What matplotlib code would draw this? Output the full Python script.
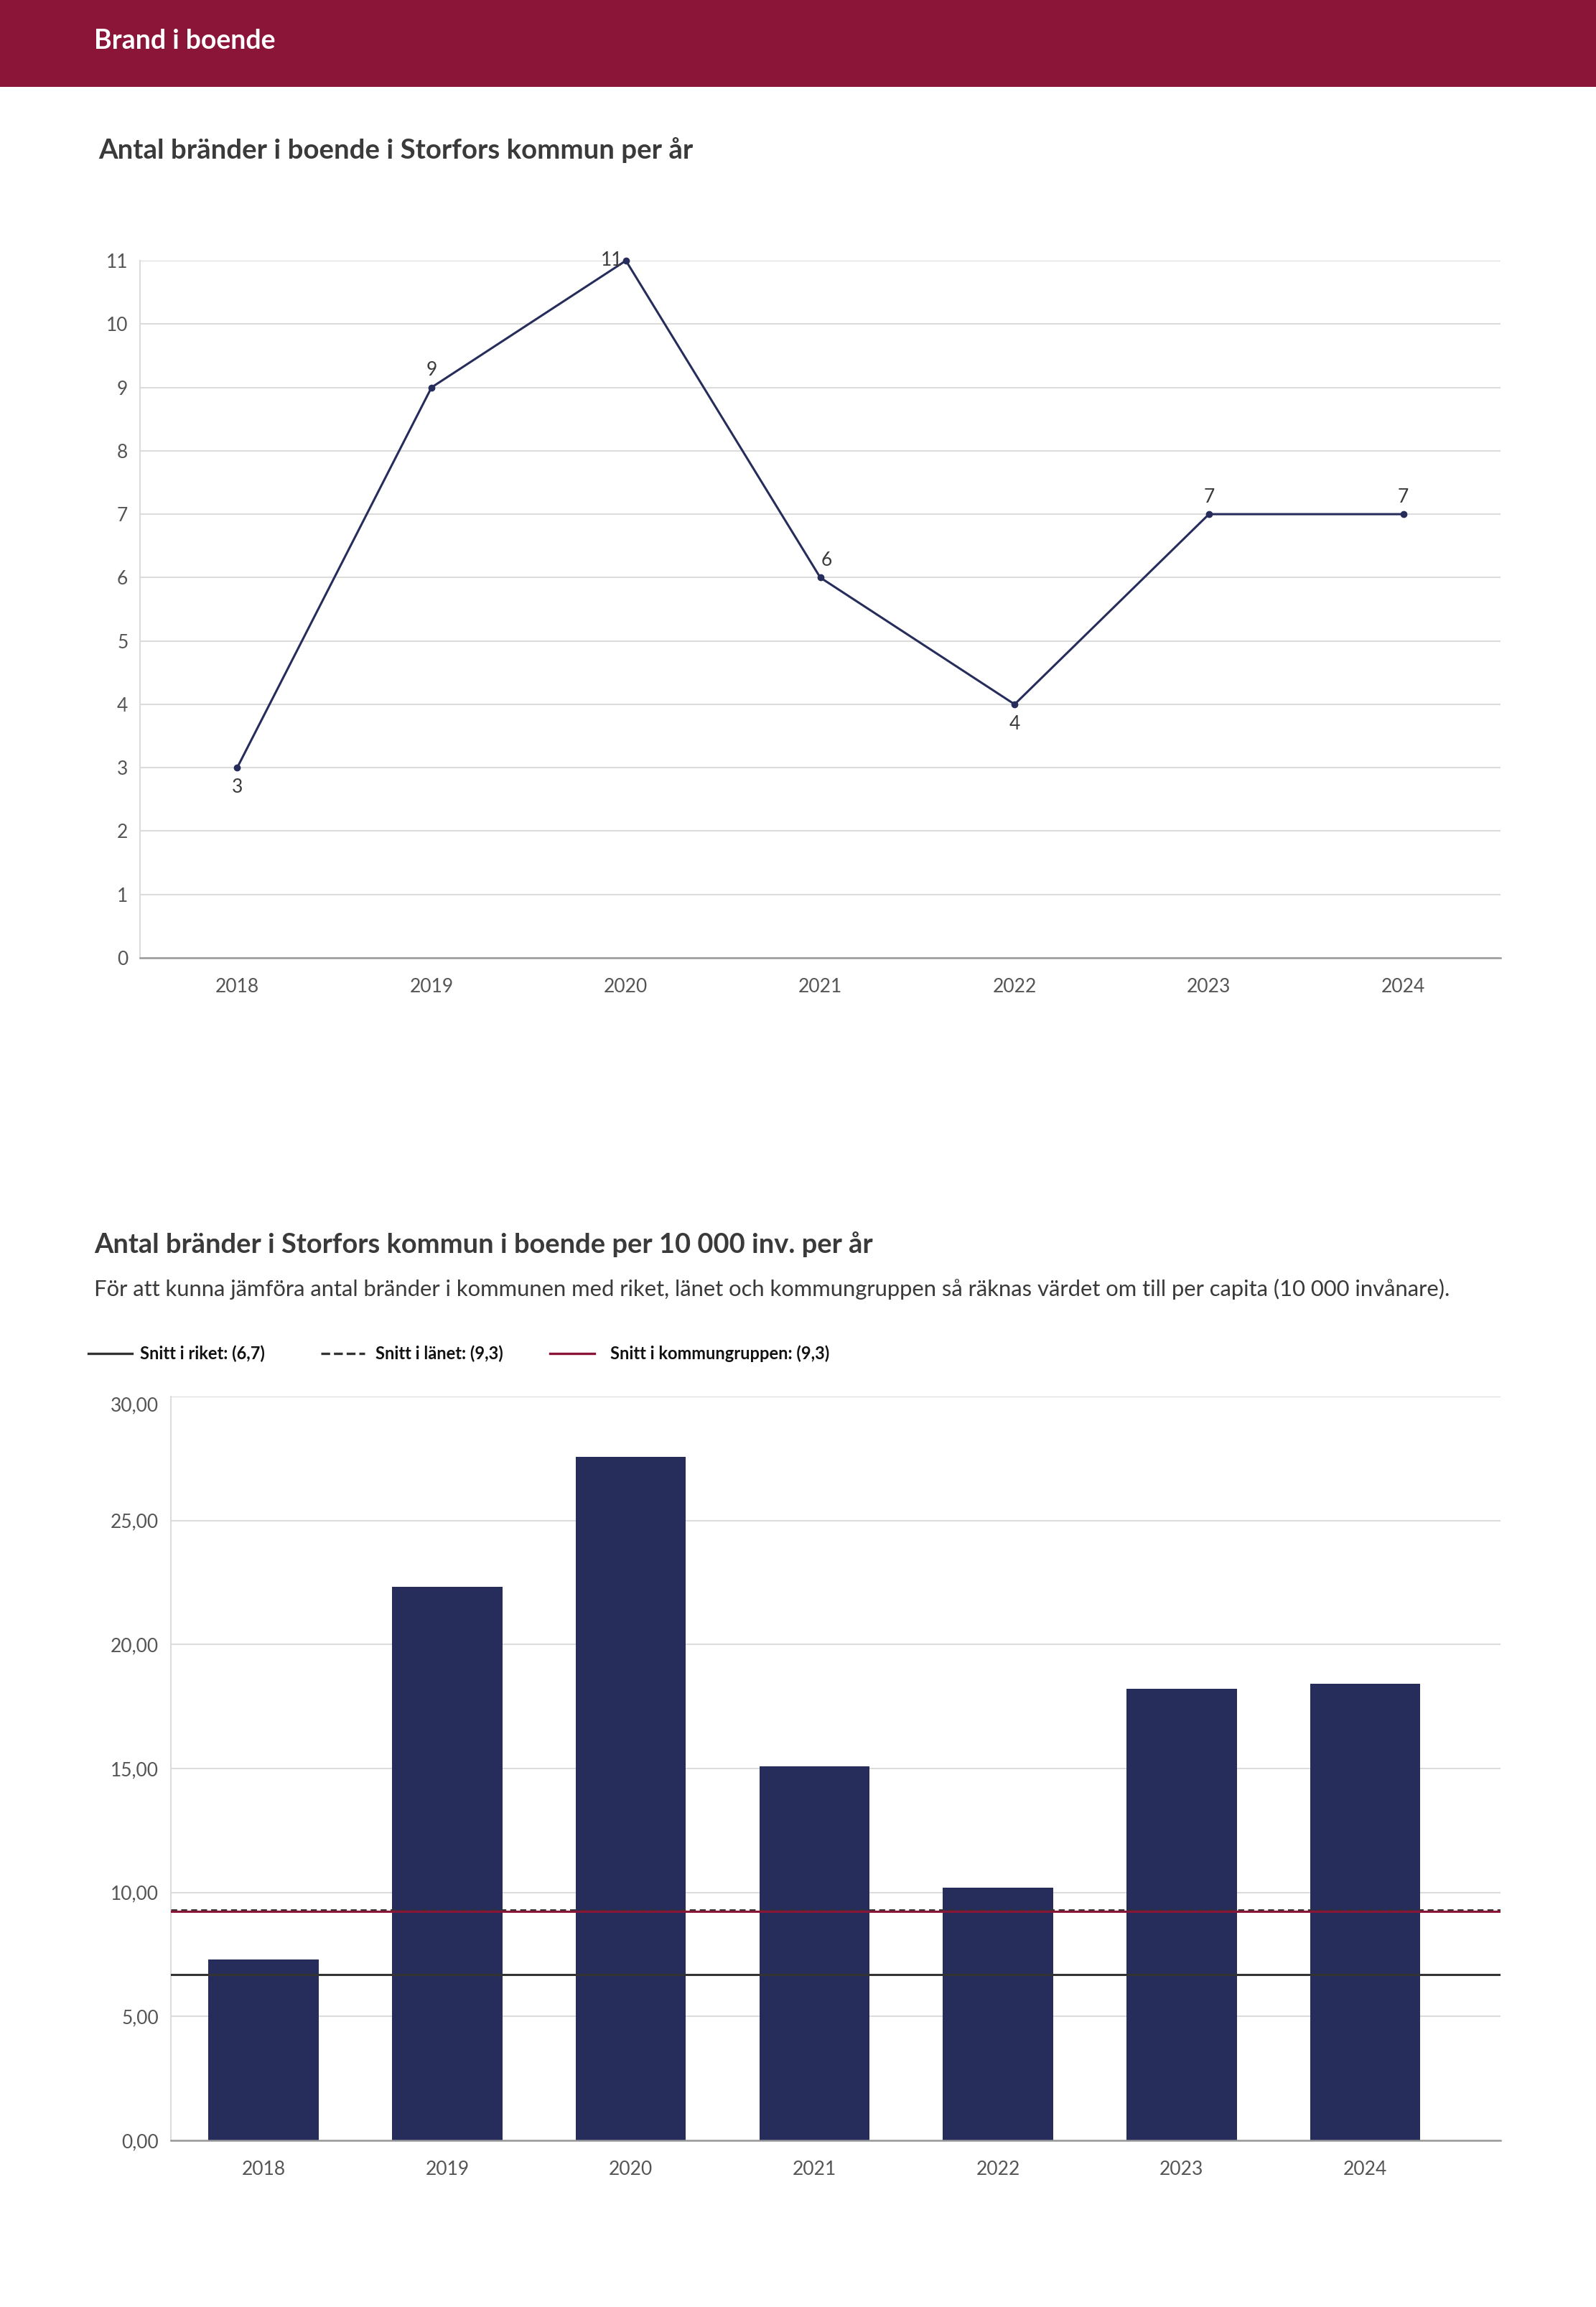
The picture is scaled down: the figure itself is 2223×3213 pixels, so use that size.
import matplotlib
matplotlib.use("Agg")
import matplotlib.pyplot as plt
from matplotlib.lines import Line2D
from matplotlib.patches import Rectangle
import matplotlib.ticker as mticker

plt.rcParams['font.family'] = ['Lato', 'DejaVu Sans']

# ---------------- data ----------------
years = ["2018", "2019", "2020", "2021", "2022", "2023", "2024"]
fires = [3, 9, 11, 6, 4, 7, 7]
fires_per_10k = [7.31, 22.33, 27.57, 15.09, 10.20, 18.21, 18.42]
avg_riket = 6.7
avg_lanet = 9.3
avg_kommungrupp = 9.3
line_yticks = list(range(0, 12))
bar_yticks = [0, 5, 10, 15, 20, 25, 30]

NAVY = "#262D5B"
WINE = "#8B1538"
TXT = "#3a3a3a"
TICK = "#555555"
GRID = "#dcdcdc"

W, H = 2223, 3213
fig = plt.figure(figsize=(W / 100, H / 100), dpi=100)

# header band
fig.add_artist(Rectangle((0, 1 - 121 / H), 1, 121 / H, transform=fig.transFigure,
                         facecolor=WINE, edgecolor="none"))
fig.text(131 / W, 1 - 57 / H, "Brand i boende", color="white", fontsize=27,
         fontweight="bold", va="center", ha="left")

fig.text(137 / W, 1 - 209 / H, "Antal bränder i boende i Storfors kommun per år",
         color=TXT, fontsize=27.6, fontweight="bold", va="center", ha="left")

# ---------------- line chart ----------------
ax1 = fig.add_axes([195 / W, 1 - 1334 / H, (2090 - 195) / W, (1334 - 363) / H])
x = list(range(len(years)))
ax1.plot(x, fires, color=NAVY, lw=2.2, marker="o", ms=6, clip_on=False, zorder=3)
ax1.set_xlim(-0.5, 6.5)
ax1.set_ylim(0, 11)
ax1.set_yticks(line_yticks)
ax1.set_xticks(x)
ax1.set_xticklabels(years)
ax1.grid(axis="y", color=GRID, lw=1.5)
ax1.set_axisbelow(True)
for s in ["top", "right"]:
    ax1.spines[s].set_visible(False)
ax1.spines["left"].set_color(GRID)
ax1.spines["left"].set_linewidth(1.5)
ax1.spines["bottom"].set_color("#999999")
ax1.spines["bottom"].set_linewidth(1.8)
ax1.tick_params(axis="both", length=0, labelsize=19, labelcolor=TICK)
ax1.tick_params(axis="x", pad=20)
ax1.tick_params(axis="y", pad=12)

# data labels (position: offset in points, ha, va)
label_pos = [
    ((0, -11), "center", "top"),
    ((0, 8), "center", "bottom"),
    ((-3, 0), "right", "center"),
    ((6, 8), "center", "bottom"),
    ((0, -11), "center", "top"),
    ((0, 8), "center", "bottom"),
    ((0, 8), "center", "bottom"),
]
for xi, v, (off, ha, va) in zip(x, fires, label_pos):
    ax1.annotate(str(v), (xi, v), xytext=off, textcoords="offset points",
                 ha=ha, va=va, fontsize=19, color=TXT, annotation_clip=False)

# ---------------- bar chart ----------------
fig.text(131 / W, 1 - 1733 / H, "Antal bränder i Storfors kommun i boende per 10 000 inv. per år",
         color=TXT, fontsize=27.4, fontweight="bold", va="center", ha="left")
fig.text(131 / W, 1 - 1795 / H,
         "För att kunna jämföra antal bränder i kommunen med riket, länet och kommungruppen så räknas värdet om till per capita (10 000 invånare).",
         color=TXT, fontsize=22.3, va="center", ha="left")

ax2 = fig.add_axes([238 / W, 1 - 2981 / H, (2090 - 238) / W, (2981 - 1945) / H])
ax2.bar(x, fires_per_10k, width=0.6, color=NAVY, zorder=2)
h_riket = ax2.axhline(avg_riket, color="#333333", lw=2.2, zorder=3)
h_lanet = ax2.axhline(avg_lanet, color="#333333", lw=2.0, ls=(0, (3, 2)), zorder=3)
h_kg = ax2.axhline(avg_kommungrupp - 0.05, color=WINE, lw=2.2, zorder=3)
ax2.set_xlim(-0.505, 6.737)
ax2.set_ylim(0, 30)
ax2.set_yticks(bar_yticks)
ax2.yaxis.set_major_formatter(mticker.FuncFormatter(lambda v, p: f"{v:.2f}".replace(".", ",")))
ax2.set_xticks(x)
ax2.set_xticklabels(years)
ax2.grid(axis="y", color=GRID, lw=1.5, zorder=0)
ax2.set_axisbelow(True)
for s in ["top", "right"]:
    ax2.spines[s].set_visible(False)
ax2.spines["left"].set_color(GRID)
ax2.spines["left"].set_linewidth(1.5)
ax2.spines["bottom"].set_color("#999999")
ax2.spines["bottom"].set_linewidth(1.8)
ax2.tick_params(axis="both", length=0, labelsize=19, labelcolor=TICK)
ax2.tick_params(axis="x", pad=20)
ax2.tick_params(axis="y", pad=12)
for lab in ax2.get_yticklabels():
    if lab.get_text() == "30,00":
        lab.set_va("top")

# legend (manual, figure coordinates)
leg_y = 1 - 1885 / H
legend_items = [
    (123, 184, 195, h_riket, f"Snitt i riket: ({avg_riket:.1f})".replace(".", ",")),
    (447, 508, 523, h_lanet, f"Snitt i länet: ({avg_lanet:.1f})".replace(".", ",")),
    (766, 828, 850, h_kg, f"Snitt i kommungruppen: ({avg_kommungrupp:.1f})".replace(".", ",")),
]
for x0, x1, xt, h, txt in legend_items:
    fig.add_artist(Line2D([x0 / W, x1 / W], [leg_y, leg_y], transform=fig.transFigure,
                          color=h.get_color(), lw=2.4, ls=h.get_linestyle()))
    fig.text(xt / W, leg_y, txt, fontsize=17, fontweight="bold", color="#111111",
             va="center", ha="left")

fig.savefig("out.png", dpi=100)
